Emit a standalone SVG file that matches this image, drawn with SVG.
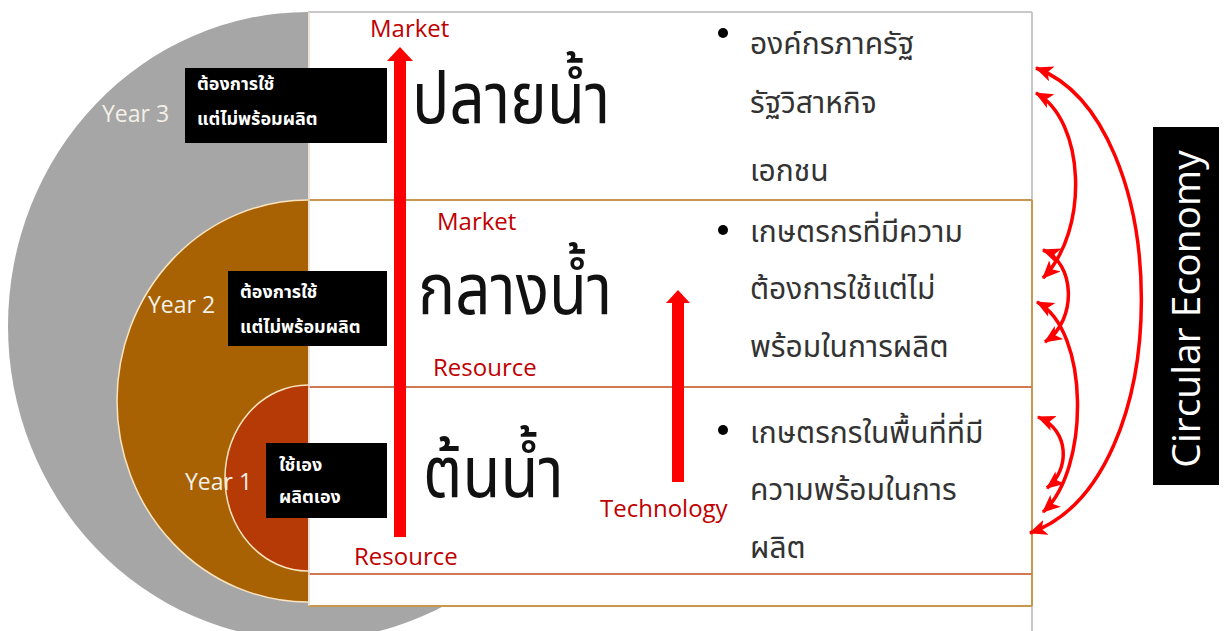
<svg xmlns="http://www.w3.org/2000/svg" width="1226" height="631" viewBox="0 0 1226 631">
  <style>
    .year { font-family: "Open Sans", "Liberation Sans", sans-serif; font-size: 23px; fill: #F4F0E8; }
    .boxtxt { font-family: "Tahoma", "Noto Sans Thai", "Noto Sans", "DejaVu Sans", sans-serif; font-size: 18px; font-weight: bold; fill: #FFFFFF; }
    .red { font-family: "Open Sans", "Liberation Sans", sans-serif; font-size: 24px; fill: #C00000; }
    .big { font-family: "Tahoma", "Noto Sans Thai", "Noto Sans", "DejaVu Sans", sans-serif; font-size: 62px; fill: #111111; }
    .item { font-family: "Tahoma", "Noto Sans Thai", "Noto Sans", "DejaVu Sans", sans-serif; font-size: 30px; fill: #333333; }
    .ce { font-family: "Open Sans", "Liberation Sans", sans-serif; font-size: 39px; fill: #FFFFFF; }
    .blackbox { fill: #000000; }
    .arc { fill: none; stroke: #FF0000; stroke-width: 3.5; marker-start: url(#ah); marker-end: url(#ah); }
  </style>
  <defs>
    <marker id="ah" markerUnits="userSpaceOnUse" markerWidth="18" markerHeight="16" refX="15" refY="7" orient="auto-start-reverse" viewBox="0 0 16 14">
      <path d="M0,0 L16,7 L0,14 L4,7 Z" fill="#FF0000"/>
    </marker>
  </defs>
  <rect x="0" y="0" width="1226" height="631" fill="#FFFFFF"/>

  <g id="rings">
    <ellipse cx="308" cy="326" rx="300" ry="314" fill="#A6A6A6"/>
    <ellipse cx="308" cy="401" rx="191" ry="201" fill="#A86103" stroke="#FBE5C0" stroke-width="1.5"/>
    <ellipse cx="308" cy="478" rx="83" ry="93" fill="#B53A05" stroke="#FBE5C0" stroke-width="1.5"/>
  </g>

  <g id="panel">
    <rect x="308" y="12" width="724" height="594" fill="#FFFFFF"/>
    <line x1="308" y1="12" x2="1032" y2="12" stroke="#C8C8C8" stroke-width="2"/>
    <line x1="1032" y1="12" x2="1032" y2="200" stroke="#C8C8C8" stroke-width="2"/>
    <line x1="1032" y1="606" x2="1032" y2="631" stroke="#C8C8C8" stroke-width="2"/>
    <line x1="1032" y1="200" x2="1032" y2="606" stroke="#C8964E" stroke-width="2"/>
    <line x1="308" y1="200" x2="1032" y2="200" stroke="#C8964E" stroke-width="2"/>
    <line x1="308" y1="606" x2="1032" y2="606" stroke="#C8964E" stroke-width="2"/>
    <line x1="308" y1="387" x2="1032" y2="387" stroke="#CF7A50" stroke-width="2"/>
    <line x1="308" y1="574" x2="1032" y2="574" stroke="#CF7A50" stroke-width="2"/>
    <line x1="309" y1="12" x2="309" y2="606" stroke="#E8D8C8" stroke-width="1.5"/>
  </g>

  <g id="year3">
    <text class="year" x="102" y="122">Year 3</text>
    <rect class="blackbox" x="185" y="68" width="202" height="75"/>
    <text class="boxtxt" x="197" y="90">ต้องการใช้</text>
    <text class="boxtxt" x="197" y="125">แต่ไม่พร้อมผลิต</text>
  </g>
  <g id="year2">
    <text class="year" x="148" y="313">Year 2</text>
    <rect class="blackbox" x="228" y="271" width="159" height="75"/>
    <text class="boxtxt" x="240" y="298">ต้องการใช้</text>
    <text class="boxtxt" x="240" y="333">แต่ไม่พร้อมผลิต</text>
  </g>
  <g id="year1">
    <text class="year" x="185" y="490">Year 1</text>
    <rect class="blackbox" x="266" y="443" width="121" height="75"/>
    <text class="boxtxt" x="279" y="471">ใช้เอง</text>
    <text class="boxtxt" x="279" y="503">ผลิตเอง</text>
  </g>

  <g id="arrows-vertical">
    <polygon points="394,537 406,537 406,61 413,61 400,47 387,61 394,61" fill="#FF0000"/>
    <polygon points="672,482 684,482 684,303 690,303 678,290 666,303 672,303" fill="#FF0000"/>
  </g>

  <g id="labels">
    <text class="red" x="370" y="37">Market</text>
    <text class="red" x="437" y="230">Market</text>
    <text class="red" x="433" y="376">Resource</text>
    <text class="red" x="354" y="565">Resource</text>
    <text class="red" x="600" y="517">Technology</text>
  </g>

  <g id="downstream">
    <text class="big" transform="translate(412,123) scale(1,1.15)">ปลายน้ำ</text>
    <circle cx="723" cy="33" r="5" fill="#000"/>
    <text class="item" x="750" y="54">องค์กรภาครัฐ</text>
    <text class="item" x="750" y="113">รัฐวิสาหกิจ</text>
    <text class="item" x="750" y="181">เอกชน</text>
  </g>
  <g id="midstream">
    <text class="big" transform="translate(418,314) scale(1,1.15)">กลางน้ำ</text>
    <circle cx="723" cy="230" r="5" fill="#000"/>
    <text class="item" x="750" y="242">เกษตรกรที่มีความ</text>
    <text class="item" x="750" y="299">ต้องการใช้แต่ไม่</text>
    <text class="item" x="750" y="357">พร้อมในการผลิต</text>
  </g>
  <g id="upstream">
    <text class="big" transform="translate(423,497) scale(1,1.15)">ต้นน้ำ</text>
    <circle cx="723" cy="430" r="5" fill="#000"/>
    <text class="item" x="750" y="443">เกษตรกรในพื้นที่ที่มี</text>
    <text class="item" x="750" y="500">ความพร้อมในการ</text>
    <text class="item" x="750" y="558">ผลิต</text>
  </g>

  <g id="circular-economy">
    <rect class="blackbox" x="1153" y="127" width="66" height="358"/>
    <text class="ce" text-anchor="middle" transform="translate(1200,309) rotate(-90)">Circular Economy</text>
  </g>

  <g id="connectors">
    <path class="arc" d="M1036,68 C1175,120 1180,480 1030,533"/>
    <path class="arc" d="M1036,93 C1085,120 1090,230 1043,278"/>
    <path class="arc" d="M1043,250 C1075,262 1078,320 1045,342"/>
    <path class="arc" d="M1037,302 C1090,330 1090,470 1043,512"/>
    <path class="arc" d="M1038,417 C1070,430 1070,470 1047,488"/>
  </g>
</svg>
